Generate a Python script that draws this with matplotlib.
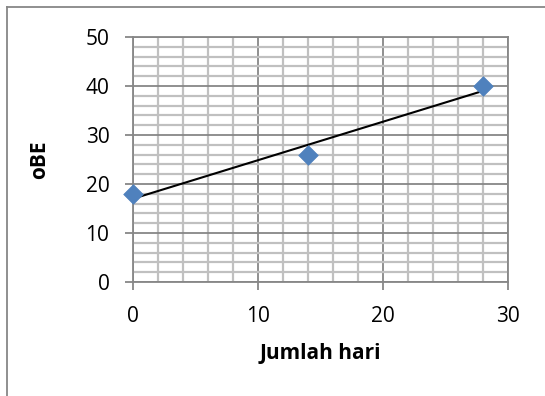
import numpy as np
import matplotlib
matplotlib.use("Agg")
import matplotlib.pyplot as plt
from matplotlib.ticker import MultipleLocator
from matplotlib.lines import Line2D

days = [0, 14, 28]
obe = [18, 26, 40]
x_label = "Jumlah hari"
y_label = "oBE"

plt.rcParams['font.family'] = ['Open Sans', 'DejaVu Sans']

fig = plt.figure(figsize=(5.45, 3.96), dpi=100)
W, H = 545, 396
ax = fig.add_axes([133 / W, (H - 282) / H, 375 / W, 245 / H])

ax.set_xlim(0, 30)
ax.set_ylim(0, 50)
ax.xaxis.set_major_locator(MultipleLocator(10))
ax.yaxis.set_major_locator(MultipleLocator(10))
ax.xaxis.set_minor_locator(MultipleLocator(2))
ax.yaxis.set_minor_locator(MultipleLocator(2))

ax.grid(which='minor', color='#c0c0c0', linewidth=1.6, zorder=0)
ax.grid(which='major', color='#878787', linewidth=1.3, zorder=0.5)
ax.set_axisbelow(True)

for s in ['top', 'right', 'left', 'bottom']:
    ax.spines[s].set_color('#878787')
    ax.spines[s].set_linewidth(1.3)

ax.tick_params(which='major', direction='out', length=6, width=1.3, color='#878787',
               labelsize=15, labelcolor='black')
ax.tick_params(axis='y', pad=11)
ax.tick_params(axis='x', pad=11)
ax.tick_params(which='minor', length=0)

# trendline
coef = np.polyfit(days, obe, 1)
xx = np.array([min(days), max(days)])
ax.plot(xx, np.polyval(coef, xx), color='black', linewidth=1.5, zorder=3)

ax.scatter(days, obe, marker='D', s=100, color='#4F81BD', edgecolors='#4F81BD',
           linewidths=0.5, zorder=4, clip_on=False)

ax.set_xlabel(x_label, fontsize=15, fontweight='bold')
ax.set_ylabel(y_label, fontsize=15, fontweight='bold')
ax.xaxis.label.set_va('center')
ax.yaxis.label.set_va('center')
ax.xaxis.set_label_coords((133 + 508) / 2 / W, (H - 354) / H, transform=fig.transFigure)
ax.yaxis.set_label_coords(40 / W, 0.5 * ((H - 37) / H + (H - 282) / H), transform=fig.transFigure)

# chart border (partially visible)
fig.add_artist(Line2D([7 / W, 7 / W], [0, 1 - 7 / H], transform=fig.transFigure,
                      color='#878787', linewidth=1.3))
fig.add_artist(Line2D([7 / W, 1], [1 - 7 / H, 1 - 7 / H], transform=fig.transFigure,
                      color='#878787', linewidth=1.3))

fig.savefig('out.png', dpi=100)
